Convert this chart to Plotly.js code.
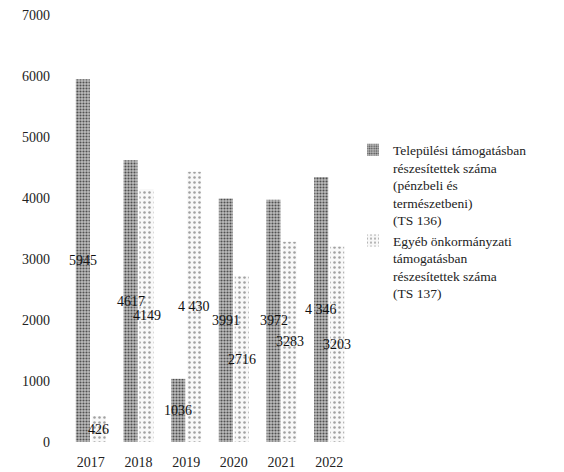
<!DOCTYPE html>
<html>
<head>
<meta charset="utf-8">
<script src="https://cdn.plot.ly/plotly-3.0.1.min.js"></script>
<style>html,body{margin:0;padding:0;background:#fff;}#chart{width:564px;height:472px;}</style>
</head>
<body>
<div id="chart"></div>
<script>
const years = ['2017', '2018', '2019', '2020', '2021', '2022'];
const settlementSupport = [5945, 4617, 1036, 3991, 3972, 4346];
const settlementLabels = ['5945', '4617', '1036', '3991', '3972', '4 346'];
const otherSupport = [426, 4149, 4430, 2716, 3283, 3203];
const otherLabels = ['426', '4149', '4 430', '2716', '3283', '3203'];
const seriesNames = [
  'Települési támogatásban<br>részesítettek száma<br>(pénzbeli és<br>természetbeni)<br>(TS 136)',
  'Egyéb önkormányzati<br>támogatásban<br>részesítettek száma<br>(TS 137)'
];
const yTicks = [0, 1000, 2000, 3000, 4000, 5000, 6000, 7000];

const serif = 'Liberation Serif, DejaVu Serif, serif';
const labelFont = {family: serif, size: 14, color: '#111'};

const data = [
  {
    type: 'bar', x: years, y: settlementSupport, name: seriesNames[0],
    marker: {color: '#b0b0b0', pattern: {shape: '.', fgcolor: '#505050', bgcolor: '#bdbdbd', size: 3, solidity: 0.4}}
  },
  {
    type: 'bar', x: years, y: otherSupport, name: seriesNames[1],
    marker: {color: '#f2f2f2', pattern: {shape: '.', fgcolor: '#a0a0a0', bgcolor: '#f8f8f8', size: 5, solidity: 0.2}}
  }
];

// value labels drawn on top of all bars, at the middle of each bar (x given as category index)
const annotations = [];
years.forEach((yr, i) => {
  annotations.push({x: i, y: settlementSupport[i] / 2, xref: 'x', yref: 'y', text: settlementLabels[i],
    showarrow: false, xshift: -8, font: labelFont});
  annotations.push({x: i, y: otherSupport[i] / 2, xref: 'x', yref: 'y', text: otherLabels[i],
    showarrow: false, xshift: 8, font: labelFont});
});

const layout = {
  width: 564, height: 472,
  margin: {l: 67, r: 211, t: 15, b: 30},
  paper_bgcolor: '#fff', plot_bgcolor: '#fff',
  barmode: 'group', bargap: 0.33, bargroupgap: 0.12,
  font: {family: serif, size: 14, color: '#222'},
  showlegend: true,
  legend: {
    x: 1.0, xanchor: 'left', y: 0.72, yanchor: 'top', valign: 'top',
    font: {family: serif, size: 13.5, color: '#222'}, tracegroupgap: 8
  },
  annotations: annotations,
  xaxis: {
    type: 'category', range: [-0.5, 5.5], showgrid: false, zeroline: false, showline: false,
    ticks: '', ticklabelstandoff: 10, tickfont: {family: serif, size: 14, color: '#222'}
  },
  yaxis: {
    range: [0, 7000], tickvals: yTicks, showgrid: false, zeroline: false, showline: false,
    ticks: '', ticklabelstandoff: 16, tickfont: {family: serif, size: 14, color: '#222'}
  }
};

Plotly.newPlot('chart', data, layout, {displayModeBar: false, staticPlot: true});
</script>
</body>
</html>
